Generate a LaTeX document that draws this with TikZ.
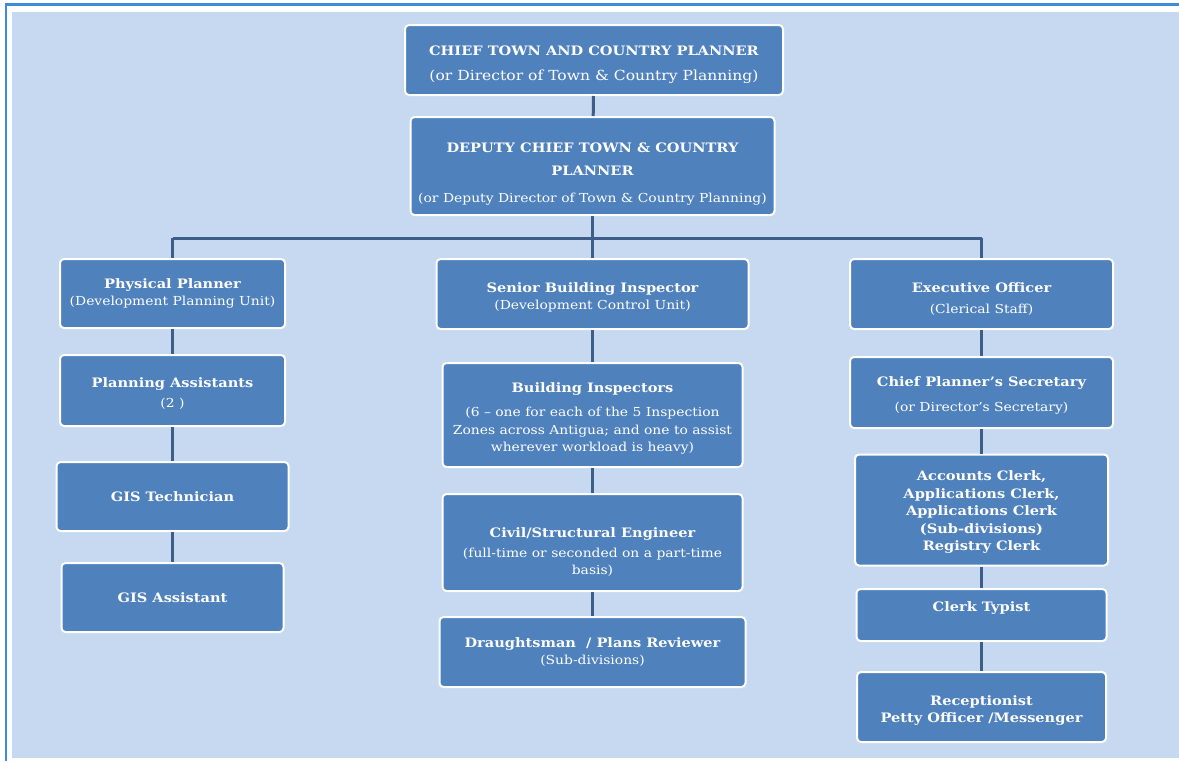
\documentclass[tikz,border=0pt]{standalone}
\usepackage{fontspec}
\setmainfont{DejaVu Serif}[FakeStretch=1.12]
\usepackage{tikz}
\usetikzlibrary{positioning}
\definecolor{boxblue}{HTML}{4F81BD}
\definecolor{pagebg}{HTML}{C6D9F1}
\definecolor{framebl}{HTML}{3C8CDC}
\definecolor{linkbl}{HTML}{3E5D88}
\newcommand{\bigrole}[1]{{\fontsize{13}{16}\selectfont\bfseries #1}}
\newcommand{\role}[1]{{\fontsize{13}{16}\selectfont\bfseries #1}}
\newcommand{\bignote}[1]{{\fontsize{13.9}{16}\selectfont #1}}
\newcommand{\rolenote}[1]{{\fontsize{12.4}{15}\selectfont #1}}
\tikzset{
    unit/.style={
    rectangle,rounded corners=4pt,draw=white,line width=2pt,fill=boxblue,
    text=white,align=center,inner sep=2pt,font=\fontsize{12.4}{17.5}\selectfont
    },
    topunit/.style={
    unit,font=\fontsize{13}{23}\selectfont
    },
    link/.style={draw=linkbl,line width=3pt}
}
\begin{document}
\begin{tikzpicture}[x=1pt,y=-1pt]
    \useasboundingbox (0,0) rectangle (1179,761);
    \fill[white] (0,0) rectangle (1179,761);
    \fill[pagebg] (12,12) rectangle (1185,758);
    \draw[framebl,line width=2.5pt] (6,761) -- (6,4.5) -- (1185,4.5);

    \node[topunit,minimum width=378pt,minimum height=70pt,text height=44pt] (chief) at (594,60)
      {\bigrole{CHIEF TOWN AND COUNTRY PLANNER}\\[2pt]\bignote{(or Director of Town \& Country Planning)}};
    \node[topunit,minimum width=364pt,minimum height=98pt,text height=76pt] (deputy) at (592.5,166)
      {\bigrole{DEPUTY CHIEF TOWN \& COUNTRY}\\\bigrole{PLANNER}\\[4pt]\rolenote{(or Deputy Director of Town \& Country Planning)}};

    \node[unit,minimum width=225pt,minimum height=69pt] (phys) at (172.5,293.5)
      {\role{Physical Planner}\\\rolenote{(Development Planning Unit)}};
    \node[unit,minimum width=225pt,minimum height=71pt,text height=36pt] (plass) at (172.5,390.5)
      {\role{Planning Assistants}\\[3pt]\rolenote{(2 )}};
    \node[unit,minimum width=232pt,minimum height=69pt] (gistech) at (172.5,496.5)
      {\role{GIS Technician}};
    \node[unit,minimum width=222pt,minimum height=69pt] (gisass) at (172.5,597.5)
      {\role{GIS Assistant}};

    \node[unit,minimum width=312pt,minimum height=70pt,text height=34pt] (senior) at (592.5,294)
      {\role{Senior Building Inspector}\\\rolenote{(Development Control Unit)}};
    \node[unit,minimum width=300pt,minimum height=104pt,text height=76pt] (binsp) at (592.5,415)
      {\role{Building Inspectors}\\[7pt]\rolenote{(6 – one for each of the 5 Inspection}\\
       \rolenote{Zones across Antigua; and one to assist}\\\rolenote{wherever workload is heavy)}};
    \node[unit,minimum width=300pt,minimum height=97pt,text height=66pt] (civil) at (592.5,542.5)
      {\role{Civil/Structural Engineer}\\[2pt]\rolenote{(full-time or seconded on a part-time}\\\rolenote{basis)}};
    \node[unit,minimum width=306pt,minimum height=70pt] (draught) at (592.5,652)
      {\role{Draughtsman\ \ / Plans Reviewer}\\\rolenote{(Sub-divisions)}};

    \node[unit,minimum width=263pt,minimum height=70pt,text height=40pt] (exec) at (981.5,294)
      {\role{Executive Officer}\\[3pt]\rolenote{(Clerical Staff)}};
    \node[unit,minimum width=263pt,minimum height=71pt,text height=41pt] (secr) at (981.5,392.5)
      {\role{Chief Planner's Secretary}\\[8pt]\rolenote{(or Director's Secretary)}};
    \node[unit,minimum width=253pt,minimum height=111pt,text height=84pt] (clerks) at (981.5,510)
      {\role{Accounts Clerk,}\\\role{Applications Clerk,}\\\role{Applications Clerk}\\\role{(Sub-divisions)}\\\role{Registry Clerk}};
    \node[unit,minimum width=250pt,minimum height=52pt,text depth=16pt] (typist) at (981.5,615)
      {\role{Clerk Typist}};
    \node[unit,minimum width=249pt,minimum height=70pt,text height=34pt] (recep) at (981.5,707)
      {\role{Receptionist}\\\role{Petty Officer /Messenger}};

    \coordinate (busl) at (172.5,238);
    \coordinate (busr) at (981.5,238);

    \begin{scope}[every path/.style=link]
      \path (chief) -- (deputy);
      \path (deputy) -- (senior);
      \path (busl) -- (busr);
      \path (busl) -- (phys);
      \path (busr) -- (exec);

      \path (phys) -- (plass);
      \path (plass) -- (gistech);
      \path (gistech) -- (gisass);

      \path (senior) -- (binsp);
      \path (binsp) -- (civil);
      \path (civil) -- (draught);

      \path (exec) -- (secr);
      \path (secr) -- (clerks);
      \path (clerks) -- (typist);
      \path (typist) -- (recep);
    \end{scope}
\end{tikzpicture}
\end{document}
